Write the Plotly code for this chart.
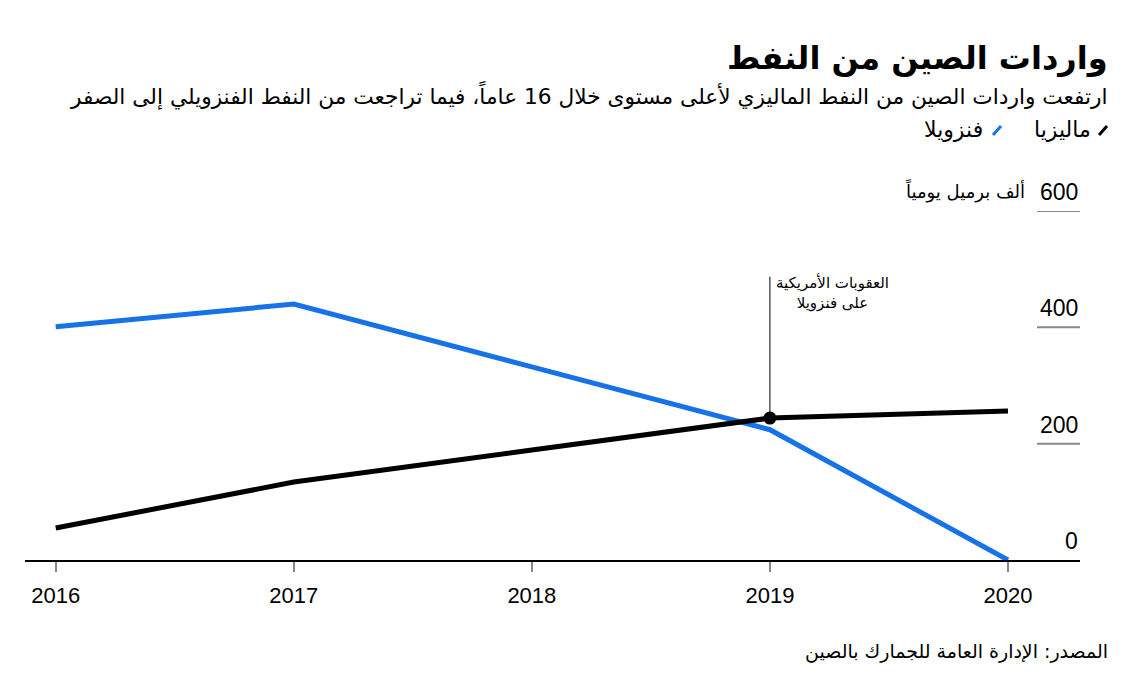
import plotly.graph_objects as go

years = [2016, 2017, 2018, 2019, 2020]
malaysia = [55, 134, 189, 244, 256]
venezuela = [401, 440, 332, 224, 0]
y_ticks = [0, 200, 400, 600]
x_ticks = [2016, 2017, 2018, 2019, 2020]

title = "واردات الصين من النفط"
subtitle = "ارتفعت واردات الصين من النفط الماليزي لأعلى مستوى خلال 16 عاماً، فيما تراجعت من النفط الفنزويلي إلى الصفر"
name_my = "ماليزيا"
name_ve = "فنزويلا"
unit = "ألف برميل يومياً"
note = "العقوبات الأمريكية<br>على فنزويلا"
source = "المصدر: الإدارة العامة للجمارك بالصين"

OFF = 8  # page body margin
W, H = 1135 - OFF, 674 - OFF
ML, MT = 25 - OFF, 211 - OFF
PW = 1080 - 25
PH = 560 - 211
MR = W - ML - PW
MB = H - MT - PH

def px(x):
    return (x - OFF - ML) / PW

def py(y):
    return (MT + PH - (y - OFF)) / PH

AR = "DejaVu Sans, sans-serif"
NUM = "Liberation Sans, Arial, sans-serif"
BLUE = "#1672e6"

fig = go.Figure()
fig.add_trace(go.Scatter(x=years, y=venezuela, mode="lines",
                         line=dict(color=BLUE, width=5), cliponaxis=False, showlegend=False))
fig.add_trace(go.Scatter(x=years, y=malaysia, mode="lines",
                         line=dict(color="black", width=5), cliponaxis=False, showlegend=False))
fig.add_trace(go.Scatter(x=[years[3]], y=[malaysia[3]], mode="markers",
                         marker=dict(color="black", size=13), cliponaxis=False, showlegend=False))

ann = []
shapes = []
for v in y_ticks:
    ann.append(dict(x=1, xref="paper", y=v, yref="y", text=str(v), showarrow=False,
                    xanchor="right", yanchor="bottom", yshift=4,
                    font=dict(family=NUM, size=23, color="black")))
    if v > 0:
        shapes.append(dict(type="line", xref="paper", yref="y", x0=px(1037), x1=1,
                           y0=v, y1=v, line=dict(color="#888888", width=2)))
ann.append(dict(x=px(1027), xref="paper", y=600, yref="y", text=unit, showarrow=False,
                xanchor="right", yanchor="bottom", yshift=6,
                font=dict(family=AR, size=18, color="black")))
shapes.append(dict(type="line", xref="x", yref="y", x0=2019, x1=2019,
                   y0=malaysia[3], y1=487, line=dict(color="black", width=1)))
ann.append(dict(x=2019, xref="x", y=487, yref="y", text=note, showarrow=False,
                xanchor="left", yanchor="top", xshift=4, yshift=6, align="center",
                font=dict(family=AR, size=15, color="black")))
ann.append(dict(x=px(1110), xref="paper", y=py(58), yref="paper", text="<b>" + title + "</b>",
                showarrow=False, xanchor="right", yanchor="middle",
                font=dict(family=AR, size=32, color="black")))
ann.append(dict(x=px(1110), xref="paper", y=py(95), yref="paper", text=subtitle,
                showarrow=False, xanchor="right", yanchor="middle",
                font=dict(family=AR, size=21.7, color="black")))
ann.append(dict(x=px(1093), xref="paper", y=py(129), yref="paper", text=name_my,
                showarrow=False, xanchor="right", yanchor="middle",
                font=dict(family=AR, size=22, color="black")))
ann.append(dict(x=px(985), xref="paper", y=py(129), yref="paper", text=name_ve,
                showarrow=False, xanchor="right", yanchor="middle",
                font=dict(family=AR, size=22, color="black")))
shapes.append(dict(type="line", xref="paper", yref="paper", x0=px(1099), x1=px(1107),
                   y0=py(135), y1=py(126), line=dict(color="black", width=3)))
shapes.append(dict(type="line", xref="paper", yref="paper", x0=px(993), x1=px(1001),
                   y0=py(135), y1=py(126), line=dict(color=BLUE, width=3)))
ann.append(dict(x=px(1110), xref="paper", y=py(651), yref="paper", text=source,
                showarrow=False, xanchor="right", yanchor="middle",
                font=dict(family=AR, size=19, color="black")))

fig.update_layout(
    width=W, height=H, margin=dict(l=ML, r=MR, t=MT, b=MB),
    paper_bgcolor="white", plot_bgcolor="white",
    annotations=ann, shapes=shapes,
    xaxis=dict(range=[2015.871, 2020.3025], tickvals=x_ticks, ticktext=[str(t) for t in x_ticks],
               showgrid=False, zeroline=False, showline=True, linecolor="black", linewidth=1.5,
               ticks="outside", ticklen=10, tickwidth=2, tickcolor="#888888",
               ticklabelstandoff=5,
               tickfont=dict(family=NUM, size=22, color="black")),
    yaxis=dict(range=[0, 600], showgrid=False, zeroline=False, showticklabels=False,
               showline=False),
)
fig.write_html("out.html")
